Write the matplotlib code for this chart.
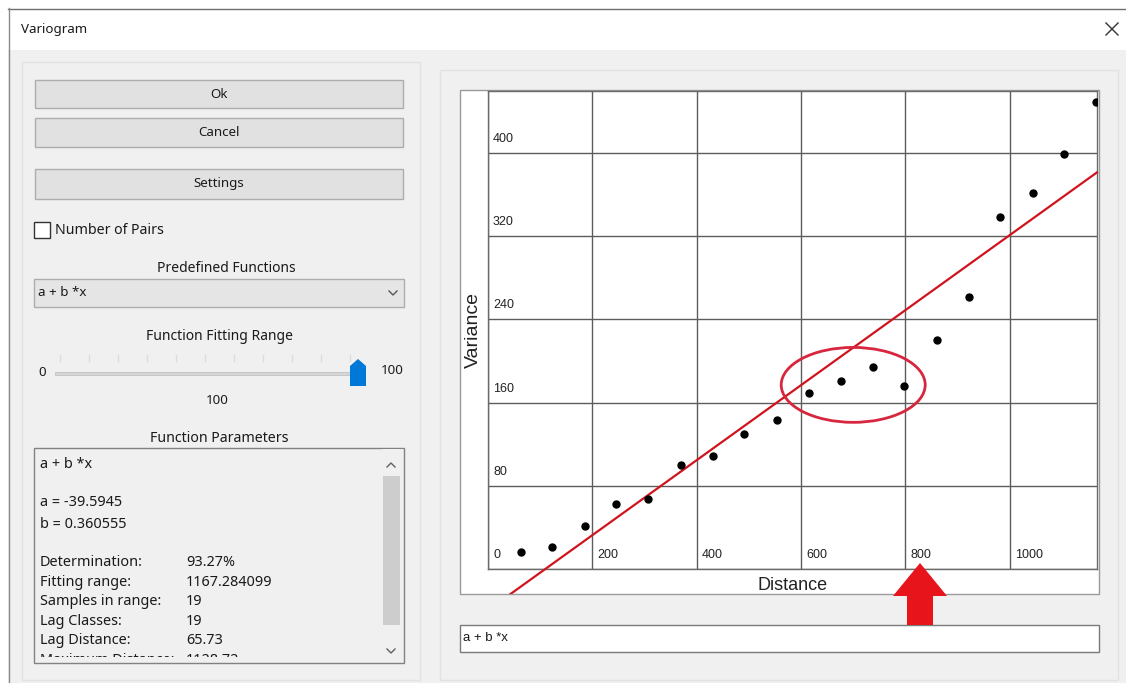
import matplotlib
matplotlib.use("Agg")
import matplotlib.pyplot as plt
from matplotlib import font_manager
from matplotlib.patches import Rectangle, Ellipse, Polygon
from matplotlib.lines import Line2D
import numpy as np

# ---------------- data ----------------
lag_distance = [62.6, 122.6, 186.4, 245.2, 307.1, 369.2, 430.5, 490.4, 553.1, 615.0,
                676.8, 738.1, 798.3, 861.5, 922.0, 982.2, 1044.6, 1104.8, 1164.8]
variance = [16.3, 21.4, 41.3, 62.8, 67.6, 100.0, 108.7, 129.8, 143.0, 169.0,
            180.5, 194.5, 175.7, 220.2, 261.5, 338.2, 361.8, 399.3, 448.8]
fit_a = -39.5945
fit_b = 0.360555
x_max = 1167.284099
y_max = 460
x_ticks = [0, 200, 400, 600, 800, 1000]
y_ticks = [0, 80, 160, 240, 320, 400]
function_name = "a + b *x"
param_labels = ["Determination:", "Fitting range:", "Samples in range:",
                "Lag Classes:", "Lag Distance:", "Maximum Distance:"]
param_values = ["93.27%", "1167.284099", "19", "19", "65.73", "1128.72"]

# ---------------- fonts ----------------
available = {f.name for f in font_manager.fontManager.ttflist}
NARROW = 'Liberation Sans Narrow' if 'Liberation Sans Narrow' in available else 'Liberation Sans'
UI = 'Noto Sans' if 'Noto Sans' in available else 'DejaVu Sans'

W, H = 1126, 683
fig = plt.figure(figsize=(W / 100, H / 100), dpi=100)
fig.patch.set_facecolor('white')

bg = fig.add_axes([0, 0, 1, 1], zorder=-1)
bg.set_xlim(0, W)
bg.set_ylim(H, 0)
bg.axis('off')


def rect(x0, y0, x1, y1, fc, ec='none', lw=1.0, z=1):
    r = Rectangle((x0, y0), x1 - x0, y1 - y0, facecolor=fc, edgecolor=ec, linewidth=lw, zorder=z)
    bg.add_patch(r)
    return r


def uitext(x, y, s, ha='left', size=9.6, color='#1a1a1a', family=None, **kw):
    return bg.text(x, y, s, ha=ha, va='center', fontsize=size, color=color,
                   family=family or UI, **kw)


# dialog body & title bar
rect(8, 50, W, H, '#f0f0f0')
rect(8, 8, W, 50, '#ffffff')
bg.add_line(Line2D([8, W], [8.5, 8.5], color='#6e6e6e', lw=1))
bg.add_line(Line2D([8.5, 8.5], [8, H], color='#8a8a8a', lw=1))
uitext(21, 30, "Variogram", size=9.6)
bg.add_line(Line2D([1106, 1118], [23, 35], color='#333333', lw=1))
bg.add_line(Line2D([1106, 1118], [35, 23], color='#333333', lw=1))

# panels
rect(22, 62, 420, 680, '#f0f0f0', ec='#e2e2e2', z=1)
rect(440, 70, 1118, 680, '#f0f0f0', ec='#e2e2e2', z=1)

# buttons
for label, y0, y1 in [("Ok", 80, 108), ("Cancel", 118, 147), ("Settings", 169, 199)]:
    rect(35, y0, 403, y1, '#e1e1e1', ec='#adadad', z=2)
    uitext(219, (y0 + y1) / 2, label, ha='center', zorder=3)

# checkbox
rect(34, 222, 50, 238, '#ffffff', ec='#333333', z=2)
uitext(55, 230, "Number of Pairs", size=10.2, zorder=3)

# predefined functions combo
uitext(226, 268, "Predefined Functions", ha='center', size=10)
rect(34, 279, 404, 307, '#e5e5e5', ec='#adadad', z=2)
uitext(38, 293, function_name, zorder=3)
bg.add_line(Line2D([389, 393, 397], [291, 295, 291], color='#555555', lw=1, zorder=3))

# fitting range slider
uitext(219, 337, "Function Fitting Range", ha='center', size=10)
uitext(38, 372, "0")
for tx in np.linspace(60, 350, 11):
    bg.add_line(Line2D([tx, tx], [355, 361], color='#dcdcdc', lw=1, zorder=2))
rect(55, 371.5, 352, 374.5, '#d6d6d6', ec='#c4c4c4', lw=0.6, z=2)
bg.add_patch(Polygon([(350, 386), (350, 366), (358, 359), (366, 366), (366, 386)],
                     closed=True, facecolor='#0078d7', edgecolor='none', zorder=3))
uitext(381, 371, "100")
uitext(217, 400, "100", ha='center')

# function parameters box
uitext(219, 439, "Function Parameters", ha='center', size=10.2)
pbox = rect(34, 448, 404, 663, '#f0f0f0', ec='#828282', z=2)
clip_box = Rectangle((35, 449), 346, 208, facecolor='none', edgecolor='none')
bg.add_patch(clip_box)
rect(382, 449, 403, 662, '#f0f0f0', z=3)
rect(383, 476, 400, 625, '#cdcdcd', z=4)
bg.add_line(Line2D([387, 391, 395], [467, 463, 467], color='#606060', lw=1, zorder=4))
bg.add_line(Line2D([387, 391, 395], [649, 653, 649], color='#606060', lw=1, zorder=4))
box_lines = [(465, function_name, None), (503, "a = %.4f" % fit_a, None),
             (524, "b = %.6f" % fit_b, None)]
for i, (lab, val) in enumerate(zip(param_labels, param_values)):
    box_lines.append((563 + i * 19.4, lab, val))
for y, lab, val in box_lines:
    t = uitext(40, y, lab, size=10.4, zorder=3, clip_on=True)
    t.set_clip_path(clip_box)
    if val is not None:
        t2 = uitext(186, y, val, size=10.4, zorder=3, clip_on=True)
        t2.set_clip_path(clip_box)

# chart white panel
panel = rect(460, 90, 1099, 594, '#ffffff', ec='#9a9a9a', z=2)

# bottom function text field
rect(460, 625, 1099, 652, '#ffffff', ec='#7a7a7a', z=2)
uitext(463, 638, function_name, size=9.5, family=NARROW, zorder=3)

# ---------------- chart ----------------
AX_L, AX_R, AX_T, AX_B = 488, 1097, 90.5, 569
ax = fig.add_axes([AX_L / W, 1 - AX_B / H, (AX_R - AX_L) / W, (AX_B - AX_T) / H], zorder=1)
ax.set_facecolor('none')
ax.set_xlim(0, x_max)
ax.set_ylim(0, y_max)
ax.set_xticks(x_ticks)
ax.set_yticks(y_ticks)
ax.grid(True, color='#5c5c5c', lw=1)
ax.tick_params(length=0, labelbottom=False, labelleft=False)
for s in ax.spines.values():
    s.set_color('#6a6a6a')
    s.set_linewidth(1)

for v in y_ticks:
    ax.annotate(str(v), xy=(0, v), xycoords=('axes fraction', 'data'),
                xytext=(5, 14), textcoords='offset pixels', ha='left', va='center',
                fontsize=9, family=NARROW, color='#222222')
for v in x_ticks[1:]:
    ax.annotate(str(v), xy=(v, 0), xycoords=('data', 'axes fraction'),
                xytext=(5, 14), textcoords='offset pixels', ha='left', va='center',
                fontsize=9, family=NARROW, color='#222222')

ax.set_xlabel("Distance", fontsize=13, family=NARROW, color='#222222')
ax.xaxis.set_label_coords(0.5, -16 / (AX_B - AX_T))
ax.xaxis.label.set_va('center')
ax.set_ylabel("Variance", fontsize=14, family=NARROW, color='#222222')
ax.yaxis.set_label_coords(-15 / (AX_R - AX_L), (AX_B - 330) / (AX_B - AX_T))
ax.yaxis.label.set_va('center')

xs = np.linspace(0, x_max, 100)
fit_line, = ax.plot(xs, fit_a + fit_b * xs, color='#d0141e', lw=1.6, zorder=3)
fit_line.set_clip_path(panel)

ax.plot(lag_distance, variance, 'o', color='black', ms=5, zorder=4)

# highlight ellipse
ax.add_patch(Ellipse((700, 177), 276, 72, facecolor='none', edgecolor='#d7263d',
                     lw=2, clip_on=False, zorder=5))

# red arrow pointing at 800
fig.add_artist(Polygon([(907, 625), (907, 596), (893, 596), (920, 563), (947, 596),
                        (933, 596), (933, 625)], closed=True, transform=bg.transData,
                       facecolor='#e8141b', edgecolor='none', zorder=5))

fig.savefig("out.png", dpi=100, facecolor=fig.get_facecolor())
